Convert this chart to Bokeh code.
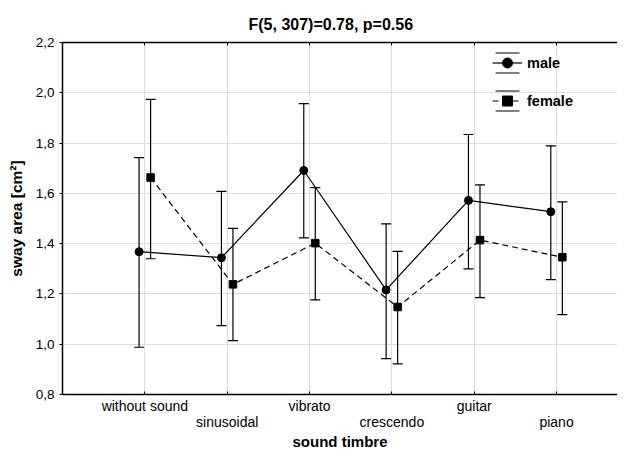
from bokeh.plotting import figure
from bokeh.models import (ColumnDataSource, Whisker, TeeHead, LinearAxis, FixedTicker,
                          Legend, LegendItem, Range1d)
from bokeh.transform import dodge
from bokeh.embed import file_html
from bokeh.resources import INLINE

categories = ["without sound", "sinusoidal", "vibrato", "crescendo", "guitar", "piano"]
male_mean = [1.368, 1.344, 1.691, 1.216, 1.572, 1.527]
male_upper = [1.742, 1.608, 1.957, 1.479, 1.834, 1.789]
male_lower = [0.988, 1.074, 1.423, 0.943, 1.300, 1.257]
female_mean = [1.663, 1.238, 1.402, 1.148, 1.414, 1.346]
female_upper = [1.974, 1.461, 1.623, 1.369, 1.634, 1.566]
female_lower = [1.340, 1.014, 1.176, 0.922, 1.185, 1.118]
y_ticks = [0.8, 1.0, 1.2, 1.4, 1.6, 1.8, 2.0, 2.2]
y_tick_labels = ["0,8", "1,0", "1,2", "1,4", "1,6", "1,8", "2,0", "2,2"]
title_text = "F(5, 307)=0.78, p=0.56"
x_label = "sound timbre"
y_label = "sway area [cm\u00b2]"

positions = list(range(1, len(categories) + 1))
FONT = "Liberation Sans"

male_src = ColumnDataSource(dict(x=positions, mean=male_mean, upper=male_upper, lower=male_lower))
female_src = ColumnDataSource(dict(x=positions, mean=female_mean, upper=female_upper, lower=female_lower))

p = figure(width=617, height=452, output_backend="svg", toolbar_location=None,
           x_range=Range1d(0, 6.74), y_range=Range1d(0.8, 2.2),
           min_border_left=62, min_border_right=0, min_border_top=42, min_border_bottom=57)
p.outline_line_color = None
p.background_fill_color = "white"
p.border_fill_color = "white"

# title
p.title.text = title_text
p.title.align = "left"
p.title.offset = 186
p.title.standoff = 19
p.title.text_font = FONT
p.title.text_font_size = "16px"
p.title.text_font_style = "bold"
p.title.text_color = "black"

# grids
p.xgrid.ticker = FixedTicker(ticks=positions)
p.ygrid.ticker = FixedTicker(ticks=y_ticks)
for g in (p.xgrid, p.ygrid):
    g.grid_line_color = "#dddddd"
    g.grid_line_width = 1

# left axis
ya = p.yaxis[0]
ya.ticker = FixedTicker(ticks=y_ticks)
ya.major_label_overrides = {t: l for t, l in zip(y_ticks, y_tick_labels)}
ya.major_tick_in = 0
ya.major_tick_out = 3
ya.minor_tick_line_color = None
ya.axis_line_color = "black"
ya.axis_line_width = 1.5
ya.major_label_text_font = FONT
ya.major_label_text_font_size = "13.5px"
ya.major_label_text_color = "black"
ya.major_label_standoff = 5
ya.axis_label = y_label
ya.axis_label_text_font = FONT
ya.axis_label_text_font_size = "15.5px"
ya.axis_label_text_font_style = "bold"
ya.axis_label_text_color = "black"
ya.axis_label_standoff = 8

# bottom axis row 1
xa = p.xaxis[0]
xa.ticker = FixedTicker(ticks=positions)
xa.major_label_overrides = {pos: (c if i % 2 == 0 else "") for i, (pos, c) in enumerate(zip(positions, categories))}
xa.major_tick_in = 3
xa.major_tick_out = 0
xa.minor_tick_line_color = None
xa.axis_line_color = "black"
xa.axis_line_width = 1.5
xa.major_label_text_font = FONT
xa.major_label_text_font_size = "14px"
xa.major_label_text_color = "black"
xa.major_label_standoff = 3

# bottom axis row 2 (staggered labels)
xa2 = LinearAxis(ticker=FixedTicker(ticks=positions),
                 major_label_overrides={pos: (c if i % 2 == 1 else "") for i, (pos, c) in enumerate(zip(positions, categories))},
                 axis_line_color=None, major_tick_line_color=None, minor_tick_line_color=None,
                 major_tick_in=0, major_tick_out=0,
                 major_label_text_font=FONT, major_label_text_font_size="14px",
                 major_label_text_color="black", major_label_standoff=-3,
                 axis_label=x_label, axis_label_text_font=FONT, axis_label_text_font_size="15px",
                 axis_label_text_font_style="bold", axis_label_text_color="black",
                 axis_label_standoff=0)
p.add_layout(xa2, "below")

# top axis (frame border with inward ticks)
xt = LinearAxis(ticker=FixedTicker(ticks=positions),
                major_label_overrides={pos: "" for pos in positions},
                major_label_text_font_size="1px", major_label_standoff=0,
                major_tick_in=3, major_tick_out=0, minor_tick_line_color=None,
                axis_line_color="black", axis_line_width=1.5)
p.add_layout(xt, "above")

# zero-size rects at the means (hidden under markers); they give the legend icon its error-bar caps
m_caps = p.rect(x=dodge("x", -0.07), y="mean", width=0, height=0, source=male_src, fill_color=None,
                line_color="black", line_width=1.2, line_dash="24 20")
f_caps = p.rect(x=dodge("x", 0.07), y="mean", width=0, height=0, source=female_src, fill_color=None,
                line_color="black", line_width=1.2, line_dash="24 20")

# data
m_line = p.line(x=dodge("x", -0.07), y="mean", source=male_src, line_color="black", line_width=1.2)
f_line = p.line(x=dodge("x", 0.07), y="mean", source=female_src, line_color="black", line_width=1.2,
                line_dash="6 4")
p.add_layout(Whisker(base=dodge("x", -0.07), upper="upper", lower="lower", source=male_src,
                     line_color="black", line_width=1.2, level="glyph",
                     upper_head=TeeHead(size=10, line_color="black", line_width=1.2),
                     lower_head=TeeHead(size=10, line_color="black", line_width=1.2)))
p.add_layout(Whisker(base=dodge("x", 0.07), upper="upper", lower="lower", source=female_src,
                     line_color="black", line_width=1.2, level="glyph",
                     upper_head=TeeHead(size=10, line_color="black", line_width=1.2),
                     lower_head=TeeHead(size=10, line_color="black", line_width=1.2)))
m_pts = p.scatter(x=dodge("x", -0.07), y="mean", source=male_src, marker="circle", size=8,
                  fill_color="black", line_color="black")
f_pts = p.scatter(x=dodge("x", 0.07), y="mean", source=female_src, marker="square", size=7.5,
                  fill_color="black", line_color="black")

legend = Legend(items=[LegendItem(label="male", renderers=[m_caps, m_line, m_pts]),
                       LegendItem(label="female", renderers=[f_caps, f_line, f_pts])],
                location=(430, 281), orientation="vertical",
                glyph_width=30, glyph_height=25, spacing=13, padding=0, margin=0,
                label_standoff=5, label_text_font=FONT, label_text_font_size="14.5px",
                label_text_font_style="bold", label_text_color="black",
                border_line_color=None, background_fill_alpha=0)
p.add_layout(legend)

open("out.html", "w").write(file_html(p, INLINE))
